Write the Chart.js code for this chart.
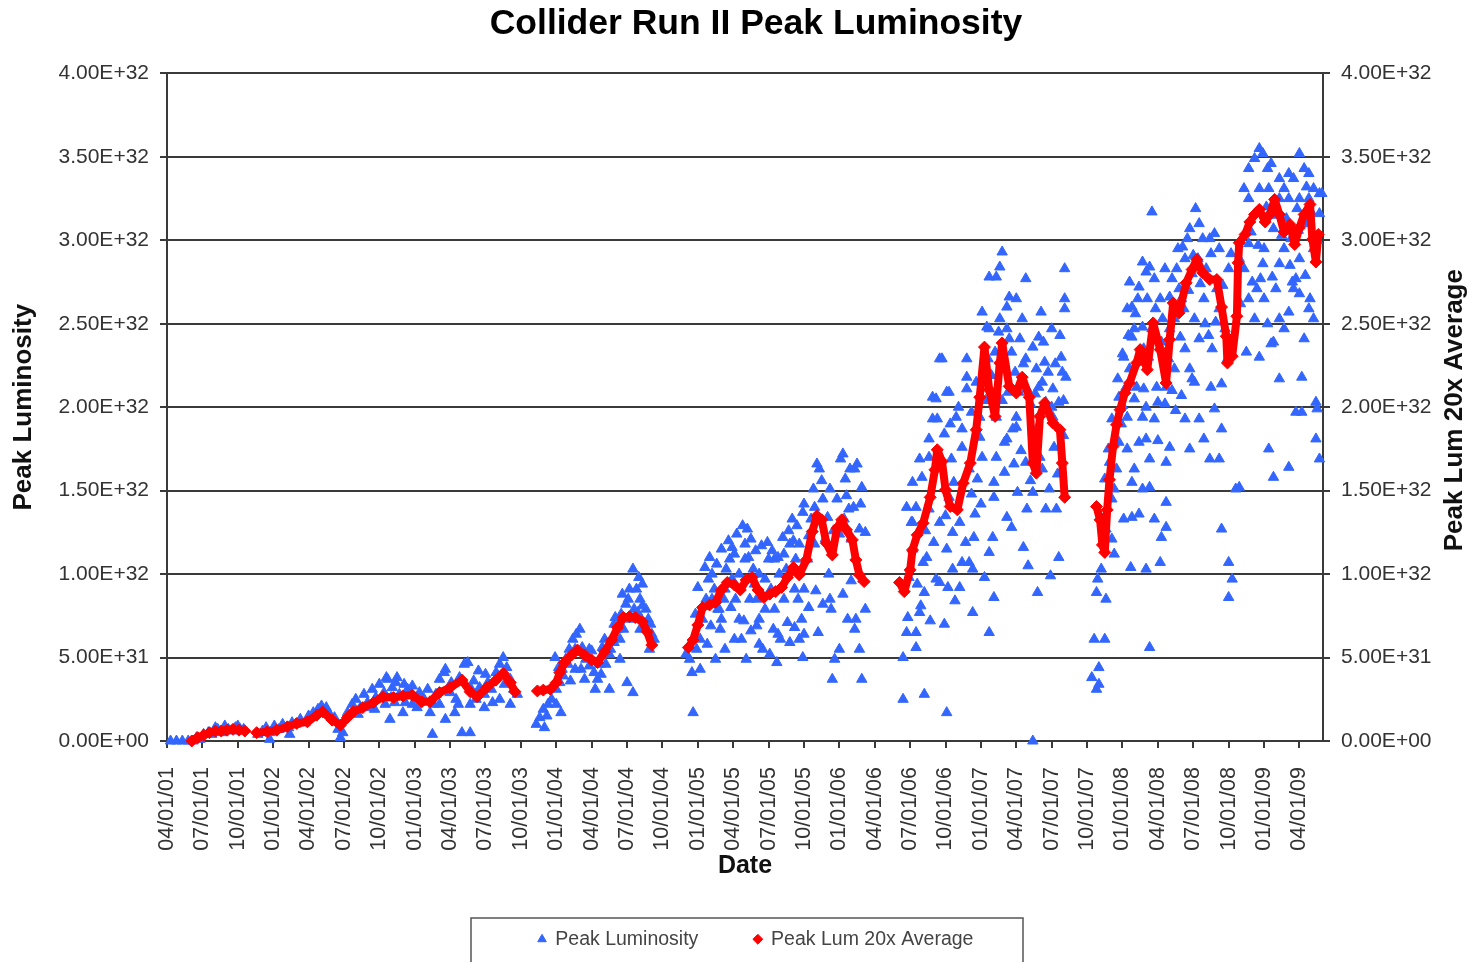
<!DOCTYPE html>
<html>
<head>
<meta charset="utf-8">
<script src="https://cdn.jsdelivr.net/npm/chart.js@4.4.1/dist/chart.umd.min.js"></script>
<style>
  html, body { margin: 0; padding: 0; background: #ffffff; }
  canvas { display: block; }
</style>
</head>
<body>
<canvas id="c" width="1474" height="962"></canvas>
<script>
// ---------- DATA (x = months since 04/01/01, y = luminosity in units of 1E+31) ----------
const UNIT = 1e31;

const quarterLabels = ['04/01/01','07/01/01','10/01/01','01/01/02','04/01/02','07/01/02','10/01/02',
  '01/01/03','04/01/03','07/01/03','10/01/03','01/01/04','04/01/04','07/01/04','10/01/04',
  '01/01/05','04/01/05','07/01/05','10/01/05','01/01/06','04/01/06','07/01/06','10/01/06',
  '01/01/07','04/01/07','07/01/07','10/01/07','01/01/08','04/01/08','07/01/08','10/01/08',
  '01/01/09','04/01/09'];
const quarterMonths = quarterLabels.map((_, i) => i * 3);

const yTickValues = [0, 5, 10, 15, 20, 25, 30, 35, 40];
const yTickLabels = ['0.00E+00','5.00E+31','1.00E+32','1.50E+32','2.00E+32','2.50E+32','3.00E+32','3.50E+32','4.00E+32'];

// Peak Luminosity (daily stores)
const lum2001 = [[0.3,0],[0.8,0],[1.3,0],[1.8,0],[2.2,0],[2.5,0.2],[2.8,0.1],[3.1,0.4],[3.5,0.5],[3.8,0.4],[4.1,0.8],[4.3,0.7],[4.7,0.5],[4.9,0.9],[5.2,0.7],[5.5,0.6],[5.8,0.8],[6.0,0.9],[6.2,0.7],[6.5,0.7]];

const lum2002_03 = [[7.7,0.4],[8.1,0.6],[8.4,0.8],[8.7,0.5],[8.7,0.1],[9.1,0.9],[9.5,0.7],[9.8,1.0],[10.3,0.8],[10.4,0.4],[10.6,1.1],[10.9,1.0],[11.3,1.3],[11.7,1.1],[12.0,1.5],[12.4,1.7],[12.8,1.9],[13.1,2.1],[13.5,2.0],[13.8,1.6],[14.2,1.4],[14.5,0.7],[14.7,0.2],[14.9,0.5],
  [15.3,1.7],[15.7,2.2],[16.0,2.5],[16.4,2.0],[16.7,2.8],[17.0,2.3],[17.4,3.1],[17.7,2.6],[18.0,3.4],[18.4,2.9],[18.7,3.7],[19.1,3.2],[19.4,3.5],[19.7,2.8],[20.1,3.4],[20.4,3.1],[20.8,3.3],[21.1,2.5],[21.4,2.9],[17.6,1.9],[18.5,2.2],[19.3,2.3],[20.2,2.3],[20.8,2.2],[18.6,3.8],[19.5,3.8],[18.9,1.3],[20.0,1.7],
  [21.8,2.5],[22.1,3.1],[22.5,0.4],[22.8,2.8],[23.1,3.7],[23.5,4.1],[23.8,3.1],[24.1,3.5],[24.5,2.5],[24.8,3.8],[25.2,4.6],[25.5,4.7],[25.0,0.5],[25.7,0.5],[25.8,3.1],[26.2,2.5],[26.5,3.2],[26.9,2.8],[27.2,3.5],[27.5,3.1],[27.9,4.1],[28.2,4.6],[28.5,5.0],[28.8,4.4],[29.1,3.7],[29.4,3.1],[29.7,2.8],[24.4,1.7],[25.7,2.2],[26.9,2.0],[28.2,2.5],[23.1,2.2],[22.3,1.7],[23.6,1.3],[29.1,2.2],[23.6,4.3],
  [16.2,1.6],[17.2,2.0],[19.0,2.6],[21.2,2.0],[22.6,2.2],[24.0,2.9],[24.7,2.2],[26.0,3.6],[27.6,2.3],[28.6,3.4],[27.0,4.0],[26.4,4.2]];

const lum2004 = [[31.3,1.0],[31.6,1.4],[31.9,1.9],[32.0,0.8],[32.3,2.2],[32.6,2.5],[33.0,3.1],[33.3,3.5],[33.4,1.7],[33.5,4.3],[33.8,4.9],[34.1,5.5],[34.4,6.1],[34.7,6.4],[35.0,6.7],[34.6,5.5],[35.2,5.6],[35.5,4.9],[35.8,4.5],[36.2,4.1],[36.5,3.7],[36.8,4.0],[37.2,4.6],[37.5,5.2],[37.9,5.9],[38.2,6.7],[38.5,7.6],[38.9,8.2],[39.2,9.1],[39.5,10.3],[39.8,9.1],[40.1,8.5],[40.3,9.4],[40.6,7.9],[40.8,7.3],[41.1,6.4],[41.3,6.1],[35.4,3.7],[36.3,3.1],[36.7,4.6],[37.5,3.1],[38.4,4.9],[39.0,3.5],[39.5,2.9],[37.9,7.0],[40.5,7.0],[40.9,5.5],[34.0,4.6],[35.8,5.5],[37.1,6.1],[39.6,7.9],[40.1,6.7],[33.0,2.2],[34.6,4.3],[38.4,6.1],[39.1,8.5],[32.9,5.0],[33.2,4.4],
  [32.2,1.5],[33.6,3.9],[34.2,3.6],[35.1,4.3],[36.0,5.4],[36.9,5.6],[37.6,5.5],[38.0,7.4],[38.7,6.7],[39.3,7.3],[39.9,7.7],[40.3,8.1],[41.0,7.0],[38.6,8.8],[40.0,9.8]];

const lum2005_06 = [[44.3,4.9],[44.5,4.1],[44.6,1.7],[44.0,5.2],[44.9,5.5],[45.2,6.1],[45.2,4.3],[45.4,7.3],[45.7,8.5],[45.9,9.7],[46.2,10.0],[46.4,9.1],[46.7,7.9],[46.9,6.7],[47.2,8.5],[47.4,10.3],[47.7,10.9],[47.9,9.7],[48.2,8.5],[48.5,7.3],[48.7,6.1],[49.0,10.9],[49.2,12.7],[49.5,12.1],[49.7,10.3],[50.0,8.5],[50.2,7.3],[50.5,5.5],[50.7,9.7],[51.0,10.9],[51.2,9.1],[51.5,7.9],[51.8,6.4],[52.0,6.1],[52.3,8.5],[52.5,10.3],[52.8,11.8],[53.0,13.3],[53.3,10.9],[53.5,8.5],[53.8,7.3],[54.0,6.4],[54.3,10.9],[54.6,13.3],[54.8,15.1],[55.1,16.6],[55.3,16.3],[55.6,14.5],[55.8,12.1],[56.1,10.0],[56.3,7.9],[56.6,4.9],[56.8,14.5],[57.1,16.9],[57.3,17.2],[57.5,15.7],[57.8,13.9],[58.0,12.1],[58.3,16.3],[58.5,16.6],[58.8,14.2],[59.0,9.7],[59.2,7.9],[58.4,7.3],[58.7,5.5],[58.9,3.7],[56.4,3.7],[57.0,5.5],[57.7,7.3],[58.3,6.7],[56.2,8.5],[53.6,6.1],[52.8,5.9],[48.1,6.1],[47.3,5.5],[50.2,5.8],[51.1,5.2],[46.5,4.9],[49.4,8.5],[50.7,7.9],[51.9,10.0],[53.2,9.1],[54.0,9.1],[54.9,11.8],[47.3,9.1],[48.5,10.0],[49.8,9.4],[52.3,11.2],[53.6,11.8],[55.3,13.3],[57.4,13.3],[58.7,12.7],[48.1,11.2],[49.0,11.8],[50.2,10.0],[51.5,10.9],[54.0,14.2],[56.2,15.1],[57.9,16.3],[46.2,8.5],[46.8,7.9],
  [45.0,9.2],[45.6,10.4],[46.0,11.0],[46.6,10.6],[47.0,11.5],[47.6,12.0],[47.9,11.6],[48.3,12.4],[48.8,12.9],[49.3,11.0],[49.9,11.4],[50.4,11.7],[50.9,11.9],[51.3,11.4],[51.8,11.0],[52.2,12.2],[52.7,12.6],[53.1,12.0],[53.4,12.9],[53.9,13.7],[54.4,12.3],[54.9,14.0],[55.5,15.6],[56.0,13.4],[56.5,12.6],[57.0,12.4],[57.6,14.7],[58.2,14.0],[58.9,15.2],[59.2,12.5],[47.0,7.3],[47.8,8.0],[48.9,7.2],[49.5,6.6],[50.0,6.9],[51.4,6.7],[52.6,7.1],[53.2,6.8],[54.4,8.0],[55.0,9.0],[55.6,8.2],[49.1,4.9],[51.7,4.7],[53.9,5.0],[55.2,6.5],[57.3,8.8],[58.0,9.6],[45.8,5.8],[44.8,7.6],[46.1,6.9]];

const lum2006_07 = [[62.4,2.5],[64.2,2.8],[66.1,1.7],[73.4,0],[62.4,5.0],[62.7,6.5],[62.8,7.4],[63.5,5.6],[63.5,6.5],[63.8,7.7],[64.2,8.9],[62.9,9.8],[63.2,11.5],[63.1,13.1],[62.7,14.0],[63.2,15.5],[63.8,16.9],[64.0,15.8],[64.6,18.1],[64.9,19.3],[65.2,20.5],[65.5,22.9],[65.7,22.9],[66.1,20.9],[66.3,20.9],[65.2,9.7],[65.5,9.5],[66.1,11.5],[66.2,9.2],[66.6,10.3],[67.2,13.1],[67.2,9.2],[67.4,10.7],[67.8,22.9],[67.8,21.1],[68.0,10.7],[68.3,7.7],[68.3,10.3],[68.4,12.2],[68.7,15.7],[68.9,18.2],[68.9,19.4],[69.1,25.7],[69.5,24.8],[69.7,6.5],[69.7,11.3],[69.7,27.8],[70.3,27.8],[70.1,14.6],[70.1,8.6],[70.1,15.5],[70.6,28.4],[70.8,29.3],[71.0,17.9],[71.2,13.4],[71.2,26.0],[71.4,26.6],[71.6,12.8],[71.7,18.7],[72.0,26.5],[72.0,19.4],[72.1,14.9],[72.3,24.1],[72.5,25.3],[72.8,27.7],[72.8,22.9],[72.9,13.9],[73.4,14.9],[73.5,17.9],[73.8,8.9],[73.9,24.2],[74.1,25.7],[74.2,21.5],[74.4,22.7],[74.5,13.9],[74.8,15.1],[75.0,24.7],[75.1,21.1],[75.2,17.6],[75.4,13.9],[75.6,11.0],[75.8,23.0],[75.9,22.1],[76.1,28.3],[76.1,26.5],[76.1,25.9],[76.2,21.8],[64.6,13.9],[64.9,20.6],[65.3,19.3],[66.9,19.4],[67.8,21.8],[68.6,21.5],[69.7,24.7],[70.6,25.3],[71.2,24.7],[71.4,24.1],[73.4,23.6],[73.7,22.3],[74.5,20.3],[70.3,19.4],[72.0,18.8],[73.7,18.7],[75.1,19.4],[75.6,20.3],[74.2,16.3],[72.8,16.7],[71.2,18.1],[69.1,17.0],[67.4,17.6],[67.4,18.7],[64.6,17.0],[63.5,14.0],[63.2,13.1],[64.1,10.7],[64.4,11.0],[65.5,13.1],[66.3,14.6],[68.0,16.3],[66.7,15.5],[70.3,17.0],
  [65.9,18.4],[66.5,16.9],[66.0,13.5],[65.0,11.9],[64.3,12.6],[63.6,9.4],[63.9,8.1],[64.7,7.2],[65.9,7.0],[66.8,8.4],[67.7,11.9],[68.5,13.6],[69.0,14.2],[69.4,20.4],[69.9,21.9],[70.2,23.3],[70.5,24.5],[70.9,22.3],[71.3,20.9],[71.6,23.3],[71.9,22.1],[72.2,20.9],[72.6,22.6],[72.9,21.1],[73.2,20.2],[73.6,20.8],[73.9,21.2],[74.3,23.9],[74.7,22.1],[75.0,20.0],[75.3,22.6],[75.7,24.3],[76.0,20.4],[74.0,17.0],[72.4,17.4],[71.0,16.1],[70.0,12.2],[69.3,9.8],[72.6,11.6],[74.9,9.9],[73.0,10.5],[70.8,20.4],[69.6,22.9],[67.1,20.0],[66.4,19.0],[68.2,19.7],[68.2,14.8],[66.6,12.5],[71.8,16.6],[73.2,15.6],[75.5,16.0],[76.0,18.3]];

const lum2007_09 = [[78.4,3.8],[78.8,3.1],[79.0,4.4],[78.6,6.1],[79.5,6.1],[78.8,8.9],[78.9,9.7],[79.2,10.3],[79.6,8.5],[80.1,12.1],[79.6,12.7],[80.3,15.1],[79.9,16.7],[80.7,17.9],[80.1,19.3],[80.7,20.6],[81.4,19.4],[81.3,21.2],[81.1,23.0],[81.4,25.9],[81.6,27.5],[82.4,27.2],[82.7,28.7],[83.3,28.4],[83.0,28.1],[81.8,26.0],[82.7,24.8],[81.8,24.2],[81.6,22.3],[82.2,21.2],[82.7,19.4],[82.4,17.9],[83.0,18.1],[81.8,15.5],[81.8,13.4],[81.7,10.4],[83.0,10.3],[83.3,5.6],[82.7,15.1],[83.3,15.2],[83.9,21.2],[84.0,20.3],[84.2,10.7],[84.3,12.2],[84.7,12.8],[84.7,14.3],[84.7,16.7],[85.0,17.6],[84.7,21.2],[85.0,24.7],[85.0,26.6],[85.6,28.3],[85.8,27.1],[86.1,29.6],[86.7,22.3],[86.9,21.7],[87.1,21.5],[87.5,24.1],[87.9,18.1],[88.5,21.2],[89.4,12.7],[89.4,18.7],[90.0,10.7],[90.0,8.6],[90.3,9.7],[90.6,15.1],[90.9,15.2],[91.5,23.3],[91.7,26.5],[92.0,27.5],[92.6,23.0],[92.7,27.7],[93.4,17.5],[93.8,15.8],[93.8,23.9],[94.0,27.1],[94.3,21.7],[95.1,16.4],[95.1,25.7],[95.4,27.5],[95.7,19.7],[96.2,21.8],[96.2,19.7],[96.8,25.9],[97.4,20.3],[97.4,18.1],[97.7,16.9],[97.5,19.9],[95.7,27.7],[83.5,31.7],[79.0,3.4],
  [87.2,31.9],[86.7,30.7],[87.5,31.0],[88.4,30.1],[88.8,30.4],[89.2,29.5],[90.0,28.3],[90.9,28.9],[91.3,33.1],[91.7,34.3],[92.2,34.9],[92.6,35.5],[92.9,35.2],[93.3,34.3],[93.6,34.6],[94.3,33.7],[94.7,33.1],[95.1,34.0],[95.5,33.7],[96.0,35.2],[96.4,34.3],[96.8,34.0],[97.2,33.1],[97.7,32.8],[97.9,32.8],[91.7,32.5],[92.6,33.1],[93.4,33.1],[94.3,32.5],[95.1,32.5],[96.0,32.5],[96.8,32.5],[97.7,31.6],[92.3,31.6],[93.8,30.7],[94.9,31.3],[95.8,31.9],[96.6,31.0],[91.7,29.8],[93.0,29.5],[94.7,29.5],[96.0,28.9],[97.2,29.5],[90.2,29.2],[91.3,28.3],[92.4,27.1],[94.3,28.6],[96.9,26.5],[93.3,25.0],[94.3,25.3],
  [80.6,21.7],[81.0,23.2],[82.0,24.7],[82.3,26.5],[82.8,23.5],[83.1,26.5],[83.5,24.7],[83.7,27.7],[84.2,26.5],[84.4,25.3],[84.6,28.3],[85.2,27.7],[85.4,25.3],[85.7,29.5],[86.0,26.5],[86.3,28.9],[86.5,30.1],[86.9,28.0],[87.4,28.9],[87.8,30.1],[88.1,28.3],[88.5,29.2],[89.0,27.1],[89.2,25.9],[89.7,24.7],[89.9,22.9],[89.4,21.4],[88.6,23.5],[87.9,26.5],[87.1,25.3],[86.3,23.5],[85.4,22.3],[84.6,20.2],[83.7,19.3],[82.8,21.1],[82.0,20.5],[80.9,19.0],[87.5,19.3],[86.3,19.3],[88.8,19.9],[88.4,16.9],[86.7,17.5],[89.2,16.9],
  [92.2,25.3],[93.0,26.5],[93.6,23.8],[94.7,24.7],[95.5,27.1],[96.4,24.1],[97.2,25.3],[96.0,26.8],
  [79.5,15.7],[79.8,17.5],[80.1,14.5],[80.5,16.3],[79.3,13.3],[80.6,19.3],[81.4,17.5],[82.0,16.3],[83.3,16.9],[81.1,13.3],[83.7,13.3],
  [81.0,20.1],[81.5,24.3],[82.1,25.6],[82.5,22.7],[83.2,23.0],[83.8,25.9],[84.3,23.9],[84.9,22.9],[85.2,21.0],[85.9,24.2],[86.2,25.9],[86.6,27.0],[87.0,29.1],[87.6,27.4],[88.0,25.0],[88.3,24.3],[88.9,25.1],[89.5,27.3],[85.5,19.8],[84.0,18.0],[83.0,20.0],[82.4,13.6],[80.3,11.2],[86.0,20.7],[91.0,26.2],[91.9,30.5],[92.5,29.7],[93.2,32.0],[93.9,31.5],[94.5,30.3],[95.3,30.1],[95.9,30.6],[96.6,33.2],[97.0,31.7],[97.5,30.0],[93.7,27.8],[95.2,28.5],[96.5,27.9],[92.9,28.6]];

// Peak Lum 20x Average (one array per running period)
const avg2001 = [[2.1,0],[2.6,0.2],[3.1,0.35],[3.6,0.5],[4.1,0.6],[4.6,0.6],[5.1,0.65],[5.6,0.7],[6.1,0.65],[6.6,0.6]];
const avg2002_03 = [[7.6,0.5],[8.5,0.55],[9.3,0.65],[10.2,0.85],[11.0,1.05],[11.9,1.15],[12.7,1.55],[13.2,1.75],[14.0,1.25],[14.7,0.95],[15.3,1.4],[15.8,1.75],[16.6,2.0],[17.5,2.3],[18.3,2.65],[19.2,2.6],[20.0,2.7],[20.8,2.75],[21.6,2.35],[22.3,2.35],[23.1,2.9],[24.0,3.2],[25.0,3.65],[25.7,2.95],[26.3,2.65],[27.1,3.2],[27.9,3.65],[28.5,4.05],[29.1,3.5],[29.5,2.95]];
const avg2004 = [[31.4,3.0],[31.9,3.05],[32.5,3.1],[33.0,3.5],[33.3,4.1],[33.7,4.7],[34.3,5.15],[34.8,5.45],[35.4,5.15],[36.0,4.85],[36.5,4.7],[37.1,5.35],[37.7,6.05],[38.2,6.8],[38.7,7.4],[39.2,7.45],[39.7,7.4],[40.3,7.15],[40.7,6.55],[41.1,5.75]];
const avg2005_06 = [[44.2,5.6],[44.6,6.05],[45.0,6.95],[45.4,8.0],[46.0,8.15],[46.5,8.3],[47.0,9.05],[47.5,9.5],[48.1,9.35],[48.6,9.05],[49.1,9.65],[49.6,9.8],[50.1,9.05],[50.6,8.6],[51.1,8.8],[51.6,8.95],[52.1,9.2],[52.6,9.8],[53.1,10.4],[53.6,9.95],[54.2,10.85],[54.7,12.55],[55.1,13.5],[55.5,13.25],[55.9,11.85],[56.4,11.15],[56.8,12.75],[57.2,13.25],[57.6,12.65],[58.1,12.05],[58.4,10.85],[58.7,9.95],[59.1,9.55]];
const avg2006_07 = [[62.1,9.5],[62.5,8.95],[63.0,10.25],[63.2,11.45],[63.6,12.35],[64.1,13.05],[64.7,14.6],[65.1,16.25],[65.3,17.45],[65.7,16.75],[66.0,15.05],[66.4,14.05],[67.0,13.85],[67.5,15.45],[68.1,16.65],[68.6,18.65],[68.9,20.6],[69.3,23.6],[69.7,21.05],[70.2,19.45],[70.6,22.65],[70.8,23.85],[71.4,21.25],[72.0,20.85],[72.5,21.8],[73.1,20.6],[73.4,16.65],[73.7,16.05],[74.0,19.45],[74.4,20.25],[75.1,19.05],[75.7,18.65],[75.9,16.65],[76.1,14.6]];
const avg2007_09 = [[78.8,14.05],[79.1,13.25],[79.3,11.75],[79.5,11.3],[79.7,13.85],[79.9,15.65],[80.2,17.65],[80.5,18.95],[80.8,19.85],[81.2,20.85],[81.6,21.45],[82.2,22.65],[82.5,23.45],[83.1,22.25],[83.6,25.05],[84.2,23.45],[84.7,21.45],[85.0,24.05],[85.3,26.25],[85.8,25.65],[86.4,27.45],[86.9,28.25],[87.3,28.85],[87.8,28.05],[88.4,27.65],[89.0,27.65],[89.4,26.0],[89.8,24.25],[89.9,22.65],[90.3,23.05],[90.7,25.45],[90.8,28.65],[90.9,29.85],[91.4,30.35],[91.8,31.1],[92.2,31.55],[92.6,31.85],[93.1,31.1],[93.5,31.55],[93.9,32.45],[94.3,31.55],[94.7,30.5],[95.2,30.95],[95.6,29.75],[96.0,30.75],[96.4,31.55],[96.9,32.15],[97.1,30.05],[97.4,28.7],[97.6,30.35]];

// ---------- BUILD ----------
const FONT = '"Liberation Sans", Arial, Helvetica, sans-serif';
const toPts = arr => arr.map(([m, v]) => ({ x: m, y: v * UNIT }));
const lumData = [lum2001, lum2002_03, lum2004, lum2005_06, lum2006_07, lum2007_09].flatMap(toPts);
const avgSegments = [avg2001, avg2002_03, avg2004, avg2005_06, avg2006_07, avg2007_09];
const avgData = avgSegments.flatMap((seg, i) => i === 0 ? toPts(seg) : [{ x: seg[0][0], y: null }, ...toPts(seg)]);

const BLUE = '#3366ff';
const RED = '#ff0000';
const AXIS = '#3a3a3a';

const extras = {
  id: 'extras',
  afterDraw(chart) {
    const ctx = chart.ctx;
    const ca = chart.chartArea;
    const r = chart.scales.y2;
    ctx.save();
    // right axis title, reading bottom to top
    ctx.font = 'bold 26px ' + FONT;
    ctx.fillStyle = '#111';
    ctx.textAlign = 'center';
    ctx.textBaseline = 'middle';
    ctx.translate(r.right - 19, (ca.top + ca.bottom) / 2 + 3);
    ctx.rotate(-Math.PI / 2);
    ctx.fillText('Peak Lum 20x Average', 0, 0);
    ctx.restore();
    // legend frame
    ctx.save();
    ctx.strokeStyle = '#555';
    ctx.lineWidth = 1.5;
    const cx = (ca.left + ca.right) / 2 + 2;
    ctx.strokeRect(cx - 276, ca.bottom + 177, 552, 60);
    ctx.restore();
  }
};

new Chart(document.getElementById('c'), {
  type: 'scatter',
  data: {
    datasets: [
      {
        label: 'Peak Luminosity',
        data: lumData,
        yAxisID: 'y',
        order: 2,
        pointStyle: 'triangle',
        pointRadius: 6,
        pointHoverRadius: 6,
        backgroundColor: BLUE,
        borderColor: BLUE,
        pointBorderWidth: 1,
        clip: false
      },
      {
        label: 'Peak Lum 20x Average',
        data: avgData,
        yAxisID: 'y2',
        order: 1,
        showLine: true,
        spanGaps: false,
        borderColor: RED,
        borderWidth: 8,
        borderJoinStyle: 'round',
        borderCapStyle: 'round',
        pointStyle: 'rectRot',
        pointRadius: 6,
        pointHoverRadius: 6,
        backgroundColor: RED,
        pointBackgroundColor: RED,
        pointBorderColor: RED,
        pointBorderWidth: 1,
        clip: false
      }
    ]
  },
  options: {
    responsive: false,
    animation: false,
    devicePixelRatio: 1,
    layout: { padding: { top: 0, left: 38, right: 0, bottom: 3 } },
    font: { family: FONT },
    plugins: {
      title: {
        display: true,
        text: 'Collider Run II Peak Luminosity',
        color: '#000',
        font: { family: FONT, size: 35.5, weight: 'bold' },
        padding: { top: 2.5, bottom: 28.3 }
      },
      legend: {
        display: true,
        position: 'bottom',
        labels: {
          usePointStyle: true,
          boxWidth: 7,
          boxHeight: 7,
          padding: 56,
          color: '#444',
          font: { family: FONT, size: 19.5 },
          sort: (a, b) => a.datasetIndex - b.datasetIndex
        }
      },
      tooltip: { enabled: false }
    },
    scales: {
      x: {
        type: 'linear',
        position: 'bottom',
        min: 0,
        max: 98,
        afterBuildTicks: s => { s.ticks = quarterMonths.map(v => ({ value: v })); },
        afterFit: s => { s.height = 132.5; },
        ticks: {
          autoSkip: false,
          minRotation: 90,
          maxRotation: 90,
          padding: 19,
          color: '#333',
          font: { family: FONT, size: 21.5 },
          callback: v => quarterLabels[quarterMonths.indexOf(v)]
        },
        grid: { drawOnChartArea: false, drawTicks: true, tickLength: 7, color: AXIS, lineWidth: 2 },
        border: { display: true, color: AXIS, width: 2 },
        title: {
          display: true,
          text: 'Date',
          color: '#111',
          font: { family: FONT, size: 25, weight: 'bold' },
          padding: { top: 0, bottom: -7.5 }
        }
      },
      y: {
        type: 'linear',
        position: 'left',
        min: 0,
        max: 40 * UNIT,
        afterBuildTicks: s => { s.ticks = yTickValues.map(v => ({ value: v * UNIT })); },
        afterFit: s => { s.width = 129; },
        ticks: {
          padding: 11,
          color: '#333',
          font: { family: FONT, size: 21 },
          callback: (v, i) => yTickLabels[i]
        },
        grid: { drawOnChartArea: true, drawTicks: true, tickLength: 7, color: AXIS, lineWidth: 2 },
        border: { display: true, color: AXIS, width: 2 },
        title: {
          display: true,
          text: 'Peak Luminosity',
          color: '#111',
          font: { family: FONT, size: 26, weight: 'bold' },
          padding: { top: -30, bottom: 0 }
        }
      },
      y2: {
        type: 'linear',
        position: 'right',
        min: 0,
        max: 40 * UNIT,
        afterBuildTicks: s => { s.ticks = yTickValues.map(v => ({ value: v * UNIT })); },
        afterFit: s => { s.width = 151; },
        ticks: {
          padding: 11,
          color: '#333',
          font: { family: FONT, size: 21 },
          callback: (v, i) => yTickLabels[i]
        },
        grid: { drawOnChartArea: false, drawTicks: true, tickLength: 7, color: AXIS, lineWidth: 2 },
        border: { display: true, color: AXIS, width: 2 }
      }
    }
  },
  plugins: [extras]
});
</script>
</body>
</html>
